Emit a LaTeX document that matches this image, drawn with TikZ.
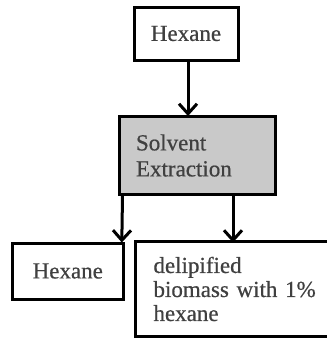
\documentclass[tikz,border=0pt]{standalone}
\usepackage{fontspec}
\setmainfont[FakeBold=0.6]{Liberation Serif}
\usetikzlibrary{arrows.meta}
\begin{document}
\begin{tikzpicture}[x=1pt,y=-1pt,
  boxline/.style={draw=black, line width=3pt},
  box/.style={boxline, inner sep=0pt, text=black!75,
    font=\fontsize{23}{26}\selectfont},
  arr/.style={line width=3pt, -{Straight Barb[length=10pt,width=18pt,line width=3pt]}}]
\useasboundingbox (0,0) rectangle (327,338);
\fill[white] (0,0) rectangle (327,338);
\node[box, minimum width=104pt, minimum height=53pt] (top) at (186,33.5) {Hexane};
\node[box, fill=black!21, minimum width=156pt, minimum height=78pt,
  inner xsep=17pt, text width=122pt, align=left] (mid) at (197,155.5) {Solvent\\Extraction};
\node[box, minimum width=111pt, minimum height=56pt] (bl) at (67.8,271) {Hexane};
\node[box, draw=none, minimum height=92pt, inner xsep=17pt, text width=170pt,
  align=left, font=\fontsize{23}{24}\selectfont, anchor=west] (br) at (135,289)
  {delipified\\biomass with 1\%\\hexane};
\coordinate (re) at (328,0);
\draw[boxline] (br.north west -| re) -- (br.north west) -- (br.south west) -- (br.south west -| re);
\draw[arr] ([xshift=2pt]top.south) -- ([xshift=2pt,yshift=-1pt]top.south |- mid.north);
\draw[arr] ([xshift=5pt]mid.south west) -- ([xshift=-3pt,yshift=-1pt]bl.north east);
\coordinate (m3) at ([xshift=36pt]mid.south);
\draw[arr] (m3) -- ([yshift=-1pt]m3 |- br.north);
\end{tikzpicture}
\end{document}
